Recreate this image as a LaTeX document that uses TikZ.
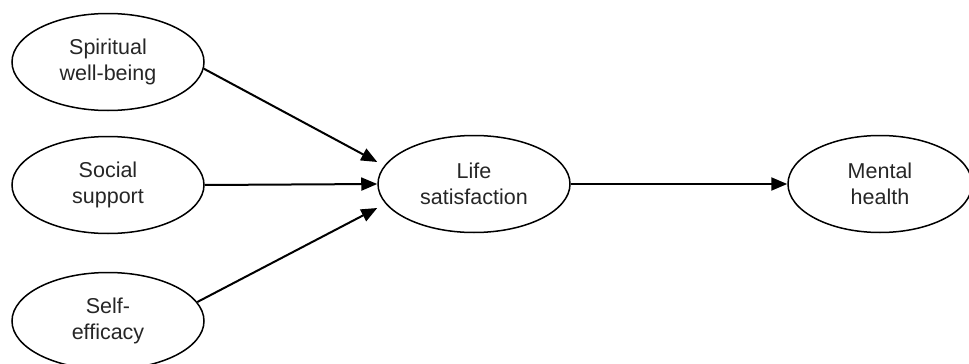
\documentclass[tikz,border=0pt]{standalone}
\usepackage{fontspec}
\setmainfont{Liberation Sans}
\usetikzlibrary{positioning, shapes.geometric, arrows.meta}

\tikzset{
    var/.style={ellipse, draw, line width=1.5pt, minimum width=192pt, minimum height=97pt,
        inner sep=0pt, align=center, text=black!85,
        font=\fontsize{21.5}{26}\selectfont},
    path/.style={line width=2pt, -{Triangle[length=16pt, width=13pt]}}
}

\begin{document}
\begin{tikzpicture}[x=1pt, y=-1pt]
            \useasboundingbox (0, 0) rectangle (969, 364);

            \node[var] (spirit) at (108, 62) {Spiritual\\well-being};
            \node[var] (social) at (108, 185) {Social\\support};
            \node[var] (selfeff) at (108, 321) {Self-\\efficacy};
            \node[var] (life) at (474, 184) {Life\\satisfaction};
            \node[var, minimum width=184pt] (mental) at (880, 184) {Mental\\health};

            \draw [path] (spirit.-4) -- ([yshift=22pt]life.west);
            \draw [path] (social.east) -- (life.west);
            \draw [path] (selfeff.12) -- ([yshift=-24pt]life.west);
            \draw [path] (life.east) -- (mental.west);
        \end{tikzpicture}
\end{document}
